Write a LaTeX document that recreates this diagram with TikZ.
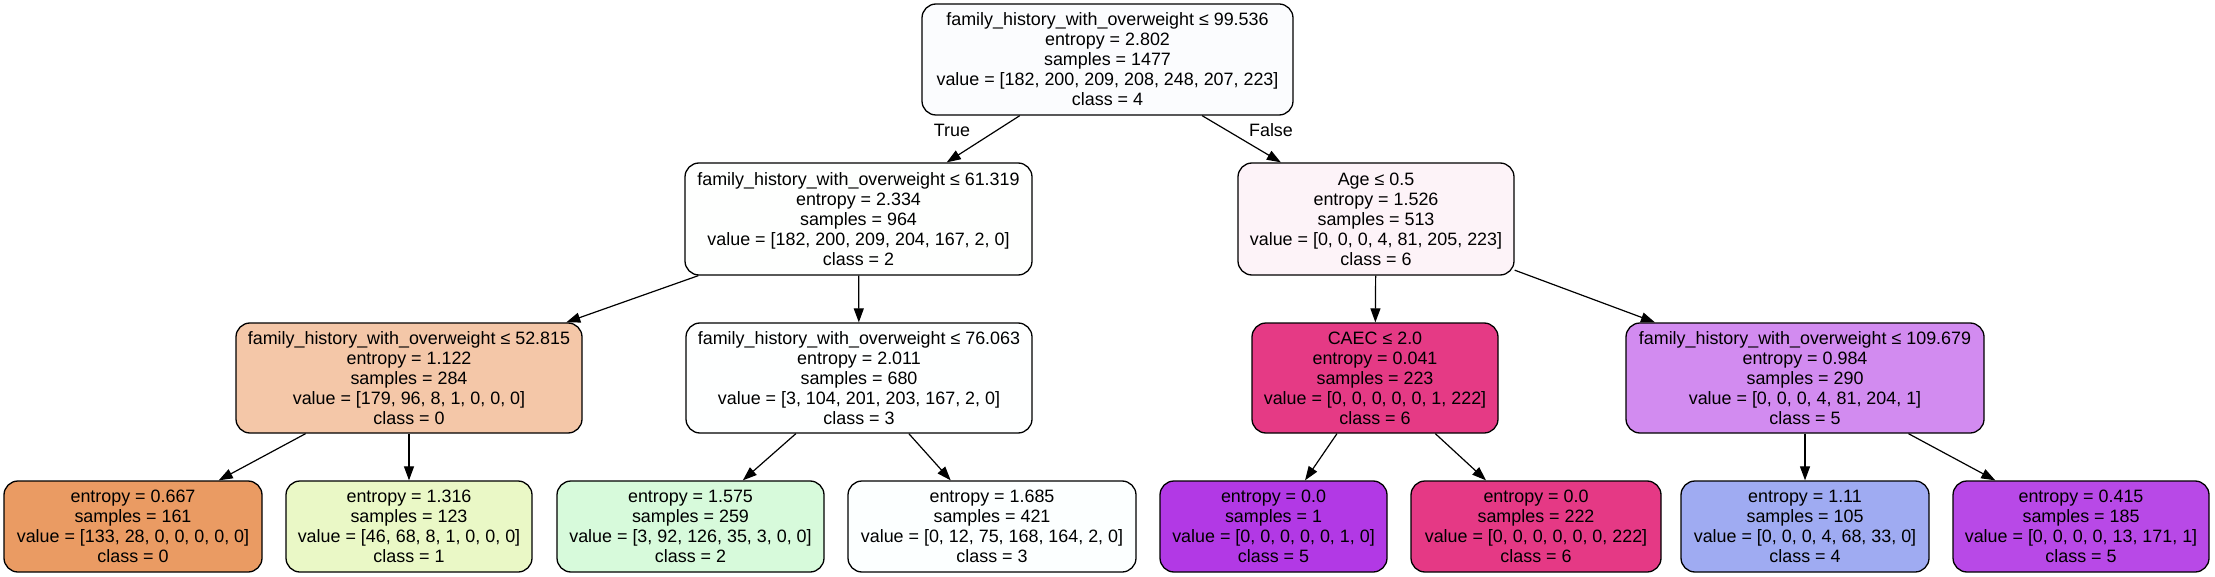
\documentclass[tikz,border=0pt]{standalone}
\usepackage{fontspec}
\setmainfont{Liberation Sans}
\usetikzlibrary{arrows.meta}
\definecolor{cRoot}{RGB}{251,252,254}
\definecolor{cA}{RGB}{254,255,254}
\definecolor{cB}{RGB}{253,243,248}
\definecolor{cC}{RGB}{244,199,168}
\definecolor{cD}{RGB}{254,255,255}
\definecolor{cE}{RGB}{229,58,133}
\definecolor{cF}{RGB}{210,139,240}
\definecolor{cL1}{RGB}{234,155,99}
\definecolor{cL2}{RGB}{234,248,198}
\definecolor{cL3}{RGB}{215,250,219}
\definecolor{cL4}{RGB}{252,255,255}
\definecolor{cL5}{RGB}{178,57,229}
\definecolor{cL6}{RGB}{229,57,133}
\definecolor{cL7}{RGB}{159,171,242}
\definecolor{cL8}{RGB}{184,73,231}
\tikzset{
  tn/.style={draw=black, line width=1.3pt, rounded corners=14pt, inner sep=0pt, align=center,
    font=\fontsize{17.9}{20}\selectfont},
  inner/.style={tn, minimum height=111pt},
  leaf/.style={tn, minimum height=91pt},
  edge/.style={draw=black, line width=1.2pt, -{Triangle[length=14pt,width=10pt]}},
  lbl/.style={inner sep=0pt, font=\fontsize{17.9}{20}\selectfont}
}
\begin{document}
\begin{tikzpicture}[x=1pt,y=-1pt]
\useasboundingbox (0,0) rectangle (2215,577);
% row 1
\node[inner, fill=cRoot, minimum width=371pt] (root) at (1107.5,59.5)
  {family\_history\_with\_overweight ≤ 99.536\\entropy = 2.802\\samples = 1477\\value = [182, 200, 209, 208, 248, 207, 223]\\class = 4};
% row 2
\node[inner, fill=cA, minimum width=347pt, minimum height=112pt] (n1) at (858.5,219)
  {family\_history\_with\_overweight ≤ 61.319\\entropy = 2.334\\samples = 964\\value = [182, 200, 209, 204, 167, 2, 0]\\class = 2};
\node[inner, fill=cB, minimum width=276pt, minimum height=112pt] (n2) at (1376,219)
  {Age ≤ 0.5\\entropy = 1.526\\samples = 513\\value = [0, 0, 0, 4, 81, 205, 223]\\class = 6};
% row 3
\node[inner, fill=cC, minimum width=346pt, minimum height=110pt] (n3) at (409,378)
  {family\_history\_with\_overweight ≤ 52.815\\entropy = 1.122\\samples = 284\\value = [179, 96, 8, 1, 0, 0, 0]\\class = 0};
\node[inner, fill=cD, minimum width=346pt, minimum height=110pt] (n4) at (859,378)
  {family\_history\_with\_overweight ≤ 76.063\\entropy = 2.011\\samples = 680\\value = [3, 104, 201, 203, 167, 2, 0]\\class = 3};
\node[inner, fill=cE, minimum width=246pt, minimum height=110pt] (n5) at (1375,378)
  {CAEC ≤ 2.0\\entropy = 0.041\\samples = 223\\value = [0, 0, 0, 0, 0, 1, 222]\\class = 6};
\node[inner, fill=cF, minimum width=358pt, minimum height=110pt] (n6) at (1805,378)
  {family\_history\_with\_overweight ≤ 109.679\\entropy = 0.984\\samples = 290\\value = [0, 0, 0, 4, 81, 204, 1]\\class = 5};
% row 4
\node[leaf, fill=cL1, minimum width=258pt] (l1) at (133,526.5)
  {entropy = 0.667\\samples = 161\\value = [133, 28, 0, 0, 0, 0, 0]\\class = 0};
\node[leaf, fill=cL2, minimum width=246pt] (l2) at (409,526.5)
  {entropy = 1.316\\samples = 123\\value = [46, 68, 8, 1, 0, 0, 0]\\class = 1};
\node[leaf, fill=cL3, minimum width=267pt] (l3) at (690.5,526.5)
  {entropy = 1.575\\samples = 259\\value = [3, 92, 126, 35, 3, 0, 0]\\class = 2};
\node[leaf, fill=cL4, minimum width=288pt] (l4) at (992,526.5)
  {entropy = 1.685\\samples = 421\\value = [0, 12, 75, 168, 164, 2, 0]\\class = 3};
\node[leaf, fill=cL5, minimum width=227pt] (l5) at (1273.5,526.5)
  {entropy = 0.0\\samples = 1\\value = [0, 0, 0, 0, 0, 1, 0]\\class = 5};
\node[leaf, fill=cL6, minimum width=250pt] (l6) at (1536,526.5)
  {entropy = 0.0\\samples = 222\\value = [0, 0, 0, 0, 0, 0, 222]\\class = 6};
\node[leaf, fill=cL7, minimum width=248pt] (l7) at (1805,526.5)
  {entropy = 1.11\\samples = 105\\value = [0, 0, 0, 4, 68, 33, 0]\\class = 4};
\node[leaf, fill=cL8, minimum width=256pt] (l8) at (2081,526.5)
  {entropy = 0.415\\samples = 185\\value = [0, 0, 0, 0, 13, 171, 1]\\class = 5};
% edges
\draw[edge] (root) -- (n1);
\draw[edge] (root) -- (n2);
\draw[edge] (n1) -- (n3);
\draw[edge] (n1) -- (n4);
\draw[edge] (n2) -- (n5);
\draw[edge] (n2) -- (n6);
\draw[edge] (n3) -- (l1);
\draw[edge] (n3) -- (l2);
\draw[edge] (n4) -- (l3);
\draw[edge] (n4) -- (l4);
\draw[edge] (n5) -- (l5);
\draw[edge] (n5) -- (l6);
\draw[edge] (n6) -- (l7);
\draw[edge] (n6) -- (l8);
% edge labels
\node[lbl] (tlab) at (952,130) {True};
\node[lbl] (flab) at (1271,130) {False};
\end{tikzpicture}
\end{document}
